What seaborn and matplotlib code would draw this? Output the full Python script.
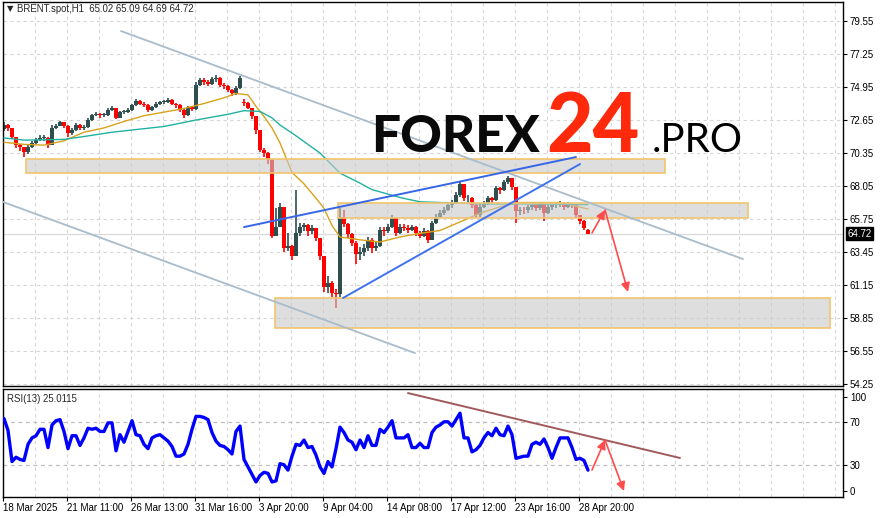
import matplotlib
matplotlib.use("Agg")
import matplotlib.pyplot as plt
import seaborn as sns
import pandas as pd
from matplotlib.patches import Rectangle

# BRENT.spot H1, one entry per ~4 hourly bars
opens = [72.0, 72.3, 72.1, 71.45, 70.9, 70.75, 70.4, 70.8, 71.05, 71.25,
         71.4, 71.4, 70.9, 72.1, 72.2, 72.5, 72.25, 71.75, 71.95, 72.3,
         72.1, 72.15, 72.65, 73.0, 73.05, 73.0, 73.0, 73.35, 73.5, 72.8,
         73.2, 73.2, 73.35, 73.7, 74.0, 73.8, 73.7, 73.35, 73.55, 73.75,
         73.9, 73.9, 74.05, 73.8, 73.7, 73.35, 73.0, 73.55, 73.4, 75.1,
         75.45, 75.3, 75.15, 75.5, 75.6, 75.1, 75.0, 74.75, 74.5, 74.9,
         73.9, 73.85, 73.5, 72.9, 71.95, 70.55, 70.35, 69.85, 64.6, 65.2,
         66.6, 63.7, 63.9, 63.2, 64.8, 65.2, 65.3, 64.9, 65.1, 64.4,
         63.2, 61.0, 61.3, 60.6, 60.5, 65.9, 65.4, 64.7, 64.1, 63.3,
         63.45, 63.7, 64.3, 63.7, 63.9, 65.0, 64.9, 65.2, 65.8, 64.8,
         65.2, 65.15, 65.0, 65.2, 64.8, 64.6, 64.9, 64.3, 65.5, 65.9,
         66.2, 66.4, 66.7, 66.9, 67.4, 68.2, 67.2, 67.2, 66.7, 66.0,
         66.6, 66.8, 67.2, 67.05, 67.9, 67.8, 68.3, 68.6, 68.0, 66.3,
         66.4, 66.35, 66.6, 66.75, 66.5, 66.8, 66.2, 66.6, 66.7, 66.75,
         66.9, 66.6, 66.8, 66.7, 66.0, 65.6, 65.02]
highs = [72.5, 72.4, 72.1, 71.5, 71.0, 70.8, 70.9, 71.2, 71.4, 71.6,
         71.6, 71.5, 72.3, 72.4, 72.6, 72.5, 72.3, 72.1, 72.45, 72.35,
         72.3, 72.8, 73.1, 73.2, 73.15, 73.15, 73.5, 73.6, 73.5, 73.3,
         73.35, 73.5, 73.8, 74.1, 74.05, 73.9, 73.75, 73.65, 73.9, 74.0,
         74.05, 74.15, 74.1, 73.85, 73.75, 73.4, 73.65, 73.6, 75.3, 75.6,
         75.6, 75.45, 75.65, 75.8, 75.65, 75.2, 75.1, 74.8, 75.0, 75.7,
         74.1, 73.9, 73.5, 72.9, 71.95, 70.7, 70.4, 69.9, 66.5, 66.9,
         66.6, 64.8, 63.95, 67.8, 65.5, 65.5, 65.4, 65.3, 65.1, 64.4,
         63.2, 61.8, 61.4, 60.9, 66.5, 66.4, 65.5, 64.8, 64.2, 63.8,
         64.0, 64.5, 64.4, 64.2, 65.2, 65.2, 65.4, 66.05, 65.8, 65.4,
         65.4, 65.3, 65.35, 65.25, 64.9, 65.1, 65.0, 65.6, 66.1, 66.35,
         66.6, 66.85, 67.05, 67.6, 68.4, 68.2, 67.4, 67.3, 66.8, 66.8,
         67.0, 67.35, 67.3, 68.05, 68.0, 68.45, 68.75, 68.6, 68.0, 66.6,
         66.6, 66.75, 66.9, 66.8, 66.95, 66.8, 66.75, 66.85, 66.9, 67.0,
         66.95, 66.95, 66.9, 66.7, 66.0, 65.7, 65.09]
lows = [71.9, 71.9, 71.3, 70.7, 70.5, 70.1, 70.3, 70.7, 71.0, 71.2,
        71.2, 70.7, 70.9, 72.0, 72.2, 72.1, 71.5, 71.6, 71.9, 71.95,
        71.95, 72.1, 72.6, 72.9, 72.8, 72.85, 72.95, 73.3, 72.7, 72.8,
        73.05, 73.15, 73.3, 73.65, 73.7, 73.55, 73.2, 73.3, 73.5, 73.7,
        73.75, 73.85, 73.7, 73.5, 73.2, 72.8, 72.95, 73.25, 73.35, 75.0,
        75.1, 75.0, 75.1, 75.3, 74.95, 74.8, 74.6, 74.3, 74.4, 74.8,
        73.6, 73.4, 72.7, 71.7, 70.4, 70.1, 69.6, 64.4, 64.6, 65.3,
        63.45, 63.5, 62.9, 63.2, 64.6, 64.9, 64.6, 64.7, 64.2, 62.9,
        60.7, 60.6, 60.3, 59.55, 60.3, 65.2, 64.4, 63.9, 62.6, 62.9,
        63.2, 63.5, 63.4, 63.5, 63.8, 64.6, 64.8, 65.1, 64.6, 64.7,
        64.9, 64.8, 64.9, 64.6, 64.4, 64.5, 64.1, 64.3, 65.4, 65.8,
        66.0, 66.3, 66.5, 66.8, 67.3, 67.0, 66.9, 66.5, 65.8, 65.9,
        66.5, 66.7, 66.9, 67.0, 67.5, 67.7, 68.2, 67.8, 65.45, 66.0,
        66.1, 66.2, 66.4, 66.3, 66.4, 65.6, 66.1, 66.4, 66.5, 66.6,
        66.4, 66.5, 66.5, 65.8, 65.4, 65.0, 64.69]
closes = [72.3, 72.1, 71.45, 70.9, 70.75, 70.4, 70.8, 71.05, 71.25, 71.4,
          71.4, 70.9, 72.1, 72.2, 72.5, 72.25, 71.75, 71.95, 72.3, 72.1,
          72.15, 72.65, 73.0, 73.05, 73.0, 73.0, 73.35, 73.5, 72.8, 73.2,
          73.2, 73.35, 73.7, 74.0, 73.8, 73.7, 73.35, 73.55, 73.75, 73.9,
          73.9, 74.05, 73.8, 73.7, 73.35, 73.0, 73.55, 73.4, 75.1, 75.45,
          75.3, 75.15, 75.5, 75.6, 75.1, 75.0, 74.75, 74.5, 74.9, 75.55,
          73.85, 73.5, 72.9, 71.95, 70.55, 70.35, 69.85, 64.6, 65.2, 66.6,
          63.7, 63.9, 63.2, 64.8, 65.2, 65.3, 64.9, 65.1, 64.4, 63.2,
          61.0, 61.3, 60.6, 60.5, 65.9, 65.4, 64.7, 64.1, 63.3, 63.45,
          63.7, 64.3, 63.7, 63.9, 65.0, 64.9, 65.2, 65.8, 64.8, 65.2,
          65.15, 65.0, 65.2, 64.8, 64.6, 64.9, 64.3, 65.5, 65.9, 66.2,
          66.4, 66.7, 66.9, 67.4, 68.2, 67.2, 67.2, 66.7, 66.0, 66.6,
          66.8, 67.2, 67.05, 67.9, 67.8, 68.3, 68.6, 68.0, 66.3, 66.4,
          66.35, 66.6, 66.75, 66.5, 66.8, 66.2, 66.6, 66.7, 66.75, 66.9,
          66.6, 66.8, 66.7, 66.0, 65.6, 65.1, 64.72]

# RSI(13), same bars
rsi = [73, 62, 33, 37, 35, 34, 49, 55, 57, 63,
       63, 46, 67, 71, 72, 61, 45, 57, 57, 48,
       55, 64, 63, 64, 61, 61, 69, 69, 43, 58,
       51, 61, 71, 58, 57, 49, 45, 55, 57, 58,
       55, 52, 47, 38, 38, 40, 49, 63, 75, 75,
       74, 72, 60, 52, 48, 47, 44, 40, 61, 66,
       35, 28, 21, 14, 20, 23, 22, 14, 15, 31,
       30, 25, 38, 49, 48, 53, 46, 47, 39, 28,
       22, 33, 28, 45, 65, 60, 53, 51, 44, 53,
       46, 57, 48, 48, 63, 60, 65, 71, 55, 55,
       55, 58, 46, 46, 50, 46, 46, 60, 65, 67,
       70, 70, 66, 72, 78, 55, 55, 42, 44, 48,
       55, 60, 57, 64, 58, 57, 66, 58, 36, 37,
       38, 38, 49, 51, 49, 54, 46, 36, 46, 55,
       55, 55, 46, 35, 36, 34, 25]

# moving averages (orange fast, teal slow), sampled along the bars
ma_fast_bar = [0, 5, 10, 15, 20, 25, 30, 35, 40, 45, 50, 55, 58, 61, 63, 65, 67,
               69, 72, 75, 78, 80, 82, 84, 89, 94, 99, 104, 109, 114, 119, 124,
               129, 134, 139, 146]
ma_fast = [71.1, 70.95, 70.9, 71.2, 71.8, 72.1, 72.55, 72.95, 73.2, 73.45, 73.8,
           74.2, 74.5, 74.4, 73.6, 72.9, 72.1, 71.05, 69.0, 68.2, 67.2, 66.5,
           65.3, 64.5, 64.3, 64.15, 64.5, 64.75, 64.95, 65.55, 66.15, 66.6,
           66.9, 66.9, 66.9, 66.45]
ma_slow_bar = [0, 5, 15, 20, 27, 40, 48, 56, 60, 64, 67, 69, 73, 79, 84, 89, 92,
               99, 104, 109, 120, 132, 146]
ma_slow = [71.4, 71.25, 71.3, 71.5, 71.8, 72.2, 72.65, 73.05, 73.3, 73.25, 72.8,
           72.3, 71.55, 70.35, 68.95, 68.25, 67.8, 67.25, 66.95, 66.9, 66.8,
           66.8, 66.75]

price_ticks = [54.25, 56.55, 58.85, 61.15, 63.45, 65.75, 68.05, 70.35, 72.65,
               74.95, 77.25, 79.55]
time_labels = ["18 Mar 2025", "21 Mar 11:00", "26 Mar 13:00", "31 Mar 16:00",
               "3 Apr 20:00", "9 Apr 04:00", "14 Apr 08:00", "17 Apr 12:00",
               "23 Apr 16:00", "28 Apr 20:00"]
time_label_bars = [-0.25, 15.75, 31.75, 47.75, 63.75, 79.75, 95.75, 111.75,
                   127.75, 143.75]
last_price = 64.72
header = "BRENT.spot,H1  65.02 65.09 64.69 64.72"
rsi_header = "RSI(13) 25.0115"

# support / resistance zones: (bar from, bar to, low, high)
zones = [(5.5, 165.25, 68.95, 69.95),
         (83.5, 186.0, 65.8, 66.9),
         (67.75, 206.5, 58.15, 60.25)]

sns.set_theme(style="white")
plt.rcParams["font.family"] = ["Liberation Sans", "DejaVu Sans"]

fig = plt.figure(figsize=(8.83, 5.18), dpi=100)
ax = fig.add_axes([3 / 883, 132 / 518, 840 / 883, 384 / 518])
ax_r = fig.add_axes([3 / 883, 21 / 518, 840 / 883, 108 / 518])

df = pd.DataFrame({"o": opens, "h": highs, "l": lows, "c": closes})
df["bar"] = range(len(df))
up = df["c"] >= df["o"]
cols = ["#2f4f4f" if u else "#ff0000" for u in up]

xmin, xmax = -0.25, 209.75
grid_x = [7.75 + 8 * k for k in range(26)]
for a in (ax, ax_r):
    for gx in grid_x:
        a.axvline(gx, color="#d6d6d6", lw=0.8, dashes=(3, 3), zorder=0)
for py in price_ticks:
    ax.axhline(py, color="#d6d6d6", lw=0.8, dashes=(3, 3), zorder=0)
ax.axhline(last_price, color="#d9d9d9", lw=0.9, zorder=0.5)

# candles
ax.vlines(df["bar"], df["l"], df["h"], colors=cols, lw=1.2, zorder=2)
body_lo = df[["o", "c"]].min(axis=1)
body_h = (df["c"] - df["o"]).abs().clip(lower=0.05)
ax.bar(df["bar"], body_h, bottom=body_lo, width=0.82, color=cols, lw=0, zorder=2)

sns.lineplot(x=ma_fast_bar, y=ma_fast, ax=ax, color="#d9a21b", lw=1.0, zorder=3)
sns.lineplot(x=ma_slow_bar, y=ma_slow, ax=ax, color="#20b2a0", lw=1.0, zorder=3)

for x0, x1, lo, hi in zones:
    ax.add_patch(Rectangle((x0, lo), x1 - x0, hi - lo, facecolor="#c9c9c9",
                           alpha=0.6, edgecolor="none", zorder=4))
    ax.add_patch(Rectangle((x0, lo), x1 - x0, hi - lo, facecolor="none",
                           edgecolor="#f2c46e", lw=1.2, zorder=4))

# trend lines
ax.plot([29.25, 184.75], [78.85, 62.96], color="#a8bccb", lw=1.3, zorder=5)
ax.plot([-0.25, 102.75], [66.94, 56.41], color="#a8bccb", lw=1.3, zorder=5)
ax.plot([60, 143], [65.19, 70.07], color="#3766e6", lw=1.4, zorder=5)
ax.plot([84.75, 144], [60.25, 69.58], color="#3f72ee", lw=1.4, zorder=5)
arrow = dict(arrowstyle="-|>", color="#ff4b4b", lw=1.2, mutation_scale=13,
             shrinkA=0, shrinkB=0)
ax.annotate("", xy=(150.25, 66.38), xytext=(147, 64.78), arrowprops=arrow, zorder=6)
ax.annotate("", xy=(156, 60.67), xytext=(150.25, 66.38), arrowprops=arrow, zorder=6)

ax.set_xlim(xmin, xmax)
ax.set_ylim(54.115, 80.874)
ax.yaxis.tick_right()
ax.set_yticks(price_ticks)
ax.set_yticklabels([f"{p:.2f}" for p in price_ticks])
ax.set_xticks([])
ax.tick_params(axis="y", right=True, length=3, width=0.8, pad=2,
               labelsize=7, colors="black")
ax.text(0.005, 0.982, "▼", transform=ax.transAxes, fontsize=6, va="center",
        family=["DejaVu Sans"])
ax.text(0.017, 0.982, header, transform=ax.transAxes, fontsize=6.9, va="center")
ax.annotate(f"{last_price:.2f}", xy=(1, last_price),
            xycoords=("axes fraction", "data"), xytext=(3, 0),
            textcoords="offset points", va="center", ha="left", fontsize=7,
            color="white", bbox=dict(boxstyle="square,pad=0.15", fc="black",
                                     ec="black"), annotation_clip=False)

# RSI panel
ax_r.axhline(70, color="#bdbdbd", lw=0.9, dashes=(3, 3), zorder=0)
ax_r.axhline(30, color="#bdbdbd", lw=0.9, dashes=(3, 3), zorder=0)
sns.lineplot(x=df["bar"], y=rsi, ax=ax_r, color="#0000ff", lw=2.4, zorder=3)
ax_r.plot([101, 169], [96.7, 36.3], color="#a05a5a", lw=1.4, zorder=4)
ax_r.annotate("", xy=(150.25, 53), xytext=(147, 25.1), arrowprops=arrow, zorder=6)
ax_r.annotate("", xy=(155, 5.6), xytext=(150.25, 53), arrowprops=arrow, zorder=6)
ax_r.set_xlim(xmin, xmax)
ax_r.set_ylim(0, 100.5)
ax_r.yaxis.tick_right()
ax_r.set_yticks([5.6, 30, 70, 93])
ax_r.set_yticklabels(["0", "30", "70", "100"])
ax_r.set_xticks(time_label_bars)
ax_r.set_xticklabels(time_labels, ha="left")
ax_r.tick_params(axis="y", right=True, length=3, width=0.8, pad=2,
                 labelsize=7, colors="black")
ax_r.tick_params(axis="x", bottom=True, length=3, width=0.8, pad=1.5,
                 labelsize=7, colors="black")
ax_r.set_xlabel("")
ax_r.set_ylabel("")
ax.set_xlabel("")
ax.set_ylabel("")
ax_r.text(0.005, 0.91, rsi_header, transform=ax_r.transAxes, fontsize=6.9,
          va="center")

for a in (ax, ax_r):
    for s in a.spines.values():
        s.set_color("black")
        s.set_linewidth(1.0)

# watermark
yb = (518 - 152) / 518
fig.text(371 / 883, yb, "FOREX", fontsize=37, family=["Lato", "DejaVu Sans"],
         fontweight="black", color="#0a0a0a", va="baseline", zorder=10)
fig.text(546 / 883, yb, "24", fontsize=58, family=["Lato", "DejaVu Sans"],
         fontweight="black", color="#ff2a0c", va="baseline", zorder=10)
fig.text(652 / 883, yb, ".PRO", fontsize=29, family=["Lato", "DejaVu Sans"],
         fontweight="normal", color="#000000", va="baseline", zorder=10)

fig.savefig("out.png", dpi=100)
